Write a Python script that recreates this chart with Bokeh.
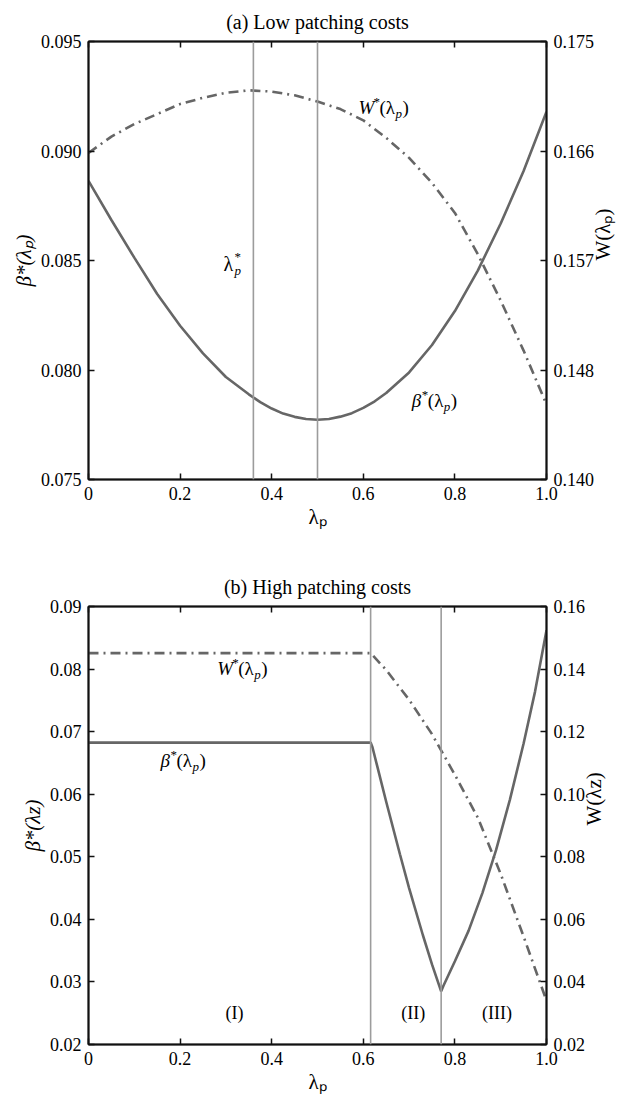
import math
from bokeh.plotting import figure
from bokeh.models import Range1d, LinearAxis, FixedTicker, Span, Label, NumeralTickFormatter, Title
from bokeh.layouts import column
from bokeh.embed import file_html
from bokeh.resources import INLINE

# ---------------- data ----------------
# Panel (a): low patching costs
a_lam = [0.0, 0.05, 0.10, 0.15, 0.20, 0.25, 0.30, 0.35, 0.375, 0.40, 0.425, 0.45, 0.475, 0.50,
         0.525, 0.55, 0.575, 0.60, 0.625, 0.65, 0.70, 0.75, 0.80, 0.85, 0.90, 0.95, 1.0]
a_beta = [0.08864, 0.08685, 0.08513, 0.08347, 0.08202, 0.08076, 0.07968, 0.07889, 0.07853, 0.07824,
          0.07801, 0.07786, 0.07776, 0.07773, 0.07776, 0.07787, 0.07803, 0.07827, 0.07857, 0.07895,
          0.07989, 0.08114, 0.08269, 0.08454, 0.08669, 0.08909, 0.09179]
a_lam_w = [0.0, 0.05, 0.10, 0.15, 0.20, 0.25, 0.30, 0.35, 0.40, 0.45, 0.50,
           0.55, 0.60, 0.65, 0.70, 0.75, 0.80, 0.85, 0.90, 0.95, 1.0]
a_welfare = [0.1661, 0.1674, 0.1684, 0.1692, 0.1700, 0.1705, 0.1709, 0.1711, 0.1710, 0.1707, 0.1702,
             0.1696, 0.1687, 0.1673, 0.1657, 0.1637, 0.1613, 0.1580, 0.1543, 0.1503, 0.1460]
a_vlines = [0.36, 0.50]

# Panel (b): high patching costs
b_lam_beta = [0.0, 0.616, 0.620, 0.63, 0.65, 0.68, 0.70, 0.73, 0.75, 0.77,
              0.775, 0.80, 0.83, 0.86, 0.89, 0.92, 0.95, 0.975, 1.0]
b_beta = [0.06825, 0.06825, 0.0675, 0.0646, 0.0588, 0.0504, 0.0450, 0.0375, 0.0328, 0.0285,
          0.0294, 0.0333, 0.0382, 0.0442, 0.0511, 0.0591, 0.0681, 0.0764, 0.0862]
b_lam_w = [0.0, 0.616, 0.65, 0.70, 0.75, 0.80, 0.85, 0.90, 0.95, 1.0]
b_welfare = [0.1451, 0.1451, 0.1397, 0.1302, 0.1192, 0.1062, 0.0925, 0.0745, 0.0545, 0.0340]
b_vlines = [0.616, 0.77]

x_ticks = [0.0, 0.2, 0.4, 0.6, 0.8, 1.0]
x_tick_labels = ["0", "0.2", "0.4", "0.6", "0.8", "1.0"]
a_left_ticks = [0.075, 0.080, 0.085, 0.090, 0.095]
a_right_ticks = [0.14, 0.14875, 0.1575, 0.16625, 0.175]
a_right_labels = ["0.140", "0.148", "0.157", "0.166", "0.175"]
b_left_ticks = [0.02, 0.03, 0.04, 0.05, 0.06, 0.07, 0.08, 0.09]
b_right_ticks = [0.02, 0.04, 0.06, 0.08, 0.10, 0.12, 0.14, 0.16]

# ---------------- style ----------------
FONT = "Liberation Serif"
CURVE = "#666666"
VLINE = "#9c9c9c"
AXC = "#111111"
FW, FH = 458, 438


def style_axis(ax, ticks, labels=None, fmt=None, show_labels=True):
    ax.ticker = FixedTicker(ticks=ticks)
    if labels is not None:
        ax.major_label_overrides = {t: l for t, l in zip(ticks, labels)}
    if fmt is not None:
        ax.formatter = NumeralTickFormatter(format=fmt)
    ax.major_tick_in = 6
    ax.major_tick_out = 0
    ax.minor_tick_line_color = None
    ax.major_tick_line_color = AXC
    ax.major_tick_line_width = 1.5
    ax.axis_line_color = AXC
    ax.axis_line_width = 2
    ax.major_label_text_font = FONT
    ax.major_label_text_font_size = "18px"
    ax.major_label_standoff = 7
    if show_labels:
        ax.major_label_text_color = "black"
    else:
        ax.major_label_text_color = None
        ax.major_label_text_font_size = "2px"
        ax.major_label_standoff = 0
    ax.axis_label_text_font = FONT
    ax.axis_label_text_font_size = "21px"
    ax.axis_label_text_font_style = "normal"
    ax.axis_label_text_color = "black"


def make_fig(title, top_border, bottom_border, yr, wr):
    p = figure(frame_width=FW, frame_height=FH, output_backend="svg", toolbar_location=None,
               x_range=Range1d(0, 1), y_range=Range1d(*yr),
               min_border_left=88, min_border_right=77,
               min_border_top=top_border, min_border_bottom=bottom_border,
               background_fill_color="white", border_fill_color="white")
    p.extra_y_ranges = {"w": Range1d(*wr)}
    p.xgrid.visible = False
    p.ygrid.visible = False
    p.outline_line_color = AXC
    p.outline_line_width = 1.5
    p.title = Title(text=title, align="center", text_font=FONT, text_font_size="20px",
                    text_font_style="normal", text_color="black", standoff=13,
                    vertical_align="top")
    return p


def mlabel(p, x, y, parts):
    # in-plot label made of pieces (text, dx, dy, size, style) placed in data coordinates
    for txt, dx, dy, size, style in parts:
        p.add_layout(Label(x=x, y=y, x_offset=dx, y_offset=dy, text=txt,
                           text_font=FONT, text_font_size=f"{size}px", text_font_style=style,
                           text_color="black", text_baseline="middle", text_align="left"))


def star_label(p, x, y, head, head_w):
    mlabel(p, x, y, [(head, 0, 0, 19, "italic"),
                     ("*", head_w, 6, 13, "normal"),
                     ("(λ", head_w + 6, 0, 19, "normal"),
                     ("p", head_w + 22, -6, 13, "italic"),
                     (")", head_w + 29, 0, 19, "normal")])


def add_axes(p, left_ticks, left_fmt, right_ticks, right_labels, right_fmt, ylab, wlab):
    style_axis(p.xaxis[0], x_ticks, x_tick_labels)
    p.xaxis[0].axis_label = "λₚ"
    p.xaxis[0].axis_label_standoff = 2
    style_axis(p.yaxis[0], left_ticks, fmt=left_fmt)
    p.yaxis[0].axis_label = ylab
    p.yaxis[0].axis_label_text_font_style = "italic"
    p.yaxis[0].axis_label_standoff = 2
    r = LinearAxis(y_range_name="w", axis_label=wlab)
    style_axis(r, right_ticks, labels=right_labels, fmt=right_fmt)
    r.axis_label_standoff = 6
    if "axis_label_orientation" in r.properties():
        r.axis_label_orientation = math.pi / 2
    p.add_layout(r, "right")
    t = LinearAxis()
    style_axis(t, x_ticks, show_labels=False)
    p.add_layout(t, "above")


# ---------------- panel (a) ----------------
pa = make_fig("(a) Low patching costs", 41, 61, (0.075, 0.095), (0.14, 0.175))
for v in a_vlines:
    pa.add_layout(Span(location=v, dimension="height", line_color=VLINE, line_width=1.6))
pa.line(a_lam, a_beta, line_color=CURVE, line_width=2.6)
pa.line(a_lam_w, a_welfare, y_range_name="w", line_color=CURVE, line_width=2.6,
        line_dash="10 5 2 5")
add_axes(pa, a_left_ticks, "0.000", a_right_ticks, a_right_labels, None, "β*(λₚ)", "W(λₚ)")

star_label(pa, 0.5895, 0.0920, "W", 15)
star_label(pa, 0.706, 0.07861, "β", 10)
mlabel(pa, 0.295, 0.08486, [("λ", 0, 0, 20, "normal"),
                             ("*", 11, 7, 13, "normal"),
                             ("p", 11, -7, 13, "italic")])

# ---------------- panel (b) ----------------
pb = make_fig("(b) High patching costs", 66, 60, (0.02, 0.09), (0.02, 0.16))
for v in b_vlines:
    pb.add_layout(Span(location=v, dimension="height", line_color=VLINE, line_width=1.6))
pb.line(b_lam_beta, b_beta, line_color=CURVE, line_width=2.6)
pb.line(b_lam_w, b_welfare, y_range_name="w", line_color=CURVE, line_width=2.6,
        line_dash="10 5 2 5")
add_axes(pb, b_left_ticks, "0.00", b_right_ticks, None, "0.00", "β*(λz)", "W(λz)")

star_label(pb, 0.281, 0.0801, "W", 15)
star_label(pb, 0.157, 0.0654, "β", 10)
for txt, lx in [("(I)", 0.319), ("(II)", 0.709), ("(III)", 0.892)]:
    pb.add_layout(Label(x=lx, y=0.0250, text=txt, text_font=FONT, text_font_size="18px",
                        text_color="black", text_align="center", text_baseline="middle"))

layout = column(pa, pb, spacing=0)
open("out.html", "w").write(file_html(layout, INLINE))
